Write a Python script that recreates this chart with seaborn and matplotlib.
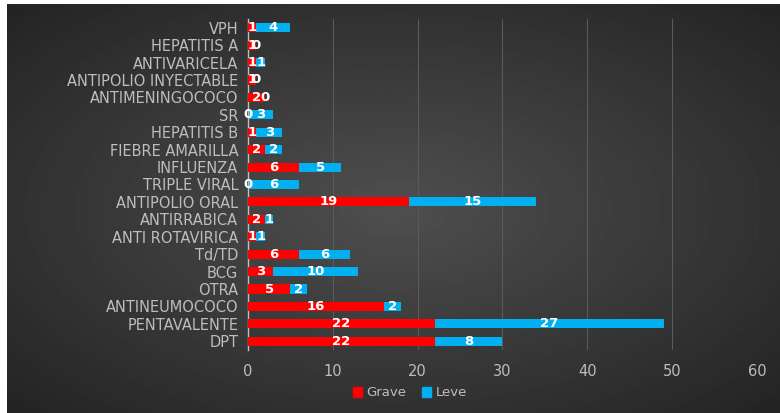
import seaborn as sns
import numpy as np
import pandas as pd
import matplotlib.pyplot as plt
from matplotlib.patches import Patch

categories = ["VPH", "HEPATITIS A", "ANTIVARICELA", "ANTIPOLIO INYECTABLE",
              "ANTIMENINGOCOCO", "SR", "HEPATITIS B", "FIEBRE AMARILLA",
              "INFLUENZA", "TRIPLE VIRAL", "ANTIPOLIO ORAL", "ANTIRRABICA",
              "ANTI ROTAVIRICA", "Td/TD", "BCG", "OTRA", "ANTINEUMOCOCO",
              "PENTAVALENTE", "DPT"]
grave = [1, 1, 1, 1, 2, 0, 1, 2, 6, 0, 19, 2, 1, 6, 3, 5, 16, 22, 22]
leve = [4, 0, 1, 0, 0, 3, 3, 2, 5, 6, 15, 1, 1, 6, 10, 2, 2, 27, 8]
x_ticks = [0, 10, 20, 30, 40, 50, 60]

RED = "#ff0000"
BLUE = "#00b0f0"
TXT = "#bdbdbd"

df = pd.DataFrame({"cat": categories, "Grave": grave, "Leve": leve})
df["total"] = df["Grave"] + df["Leve"]

sns.set_style("white")
plt.rcParams["font.family"] = ["DejaVu Sans"]

fig = plt.figure(figsize=(7.8, 4.13), dpi=100, facecolor="white")

# dark radial background
bg = fig.add_axes([7 / 780, 0, 773 / 780, 409 / 413], zorder=-10)
yy, xx = np.mgrid[-1:1:300j, -1:1:500j]
r = np.sqrt(xx ** 2 + yy ** 2) / np.sqrt(2)
bg.imshow(0.31 - 0.17 * r, cmap="gray", vmin=0, vmax=1, aspect="auto",
          extent=[0, 1, 0, 1])
bg.axis("off")

ax = fig.add_axes([248 / 780, 1 - 350 / 413, (757 - 248) / 780, (350 - 19) / 413])
ax.patch.set_alpha(0)

sns.barplot(data=df, y="cat", x="total", color=BLUE, orient="h",
            width=0.52, ax=ax, saturation=1, linewidth=0, zorder=2)
sns.barplot(data=df, y="cat", x="Grave", color=RED, orient="h",
            width=0.52, ax=ax, saturation=1, linewidth=0, zorder=3)

for i, (g, l) in enumerate(zip(grave, leve)):
    ax.text(g / 2, i, str(g), ha="center", va="center", color="white",
            fontsize=9.5, fontweight="bold", zorder=5)
    ax.text(g + l / 2, i, str(l), ha="center", va="center", color="white",
            fontsize=9.5, fontweight="bold", zorder=5)

ax.set_xlim(0, 60)
ax.set_xticks(x_ticks)
ax.set_xlabel("")
ax.set_ylabel("")
ax.grid(axis="x", color="#5a5a5a", linewidth=0.8, zorder=0)
ax.set_axisbelow(True)
for s in ["top", "right", "bottom"]:
    ax.spines[s].set_visible(False)
ax.spines["left"].set_color("#bfbfbf")
ax.spines["left"].set_linewidth(1)
ax.tick_params(axis="y", length=0, pad=7, labelsize=10.5, labelcolor=TXT)
ax.tick_params(axis="x", length=0, pad=10, labelsize=10.5, labelcolor=TXT)

handles = [Patch(color=RED, label="Grave"), Patch(color=BLUE, label="Leve")]
fig.legend(handles=handles, loc="center", bbox_to_anchor=(410 / 780, 1 - 393 / 413),
           ncol=2, frameon=False, fontsize=9.5, labelcolor=TXT,
           handlelength=0.7, handleheight=0.7, handletextpad=0.3, columnspacing=1.2)

fig.savefig("out.png", dpi=100)
